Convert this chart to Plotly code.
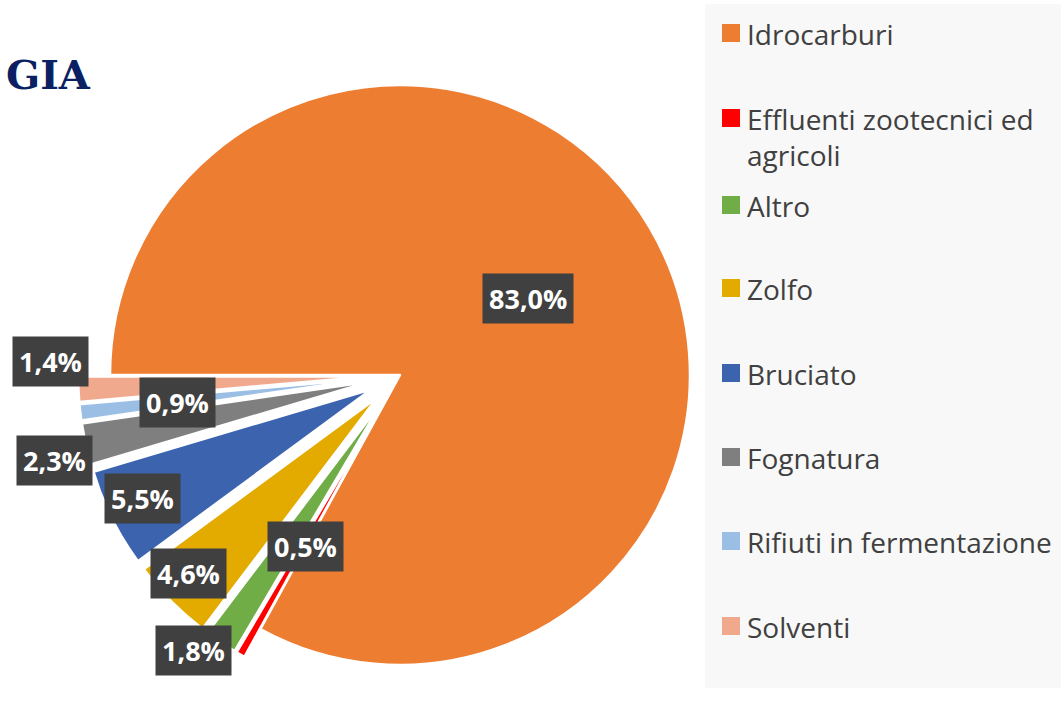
import plotly.graph_objects as go

# ---------------- data ----------------
labels = ["Idrocarburi", "Effluenti zootecnici ed agricoli", "Altro", "Zolfo",
          "Bruciato", "Fognatura", "Rifiuti in fermentazione", "Solventi"]
legend_text = ["Idrocarburi", "Effluenti zootecnici ed<br>agricoli", "Altro", "Zolfo",
               "Bruciato", "Fognatura", "Rifiuti in fermentazione", "Solventi"]
values = [83.0, 0.5, 1.8, 4.6, 5.5, 2.3, 0.9, 1.4]
colors = ["#ED7D31", "#FF0000", "#70AD47", "#E3AB00",
          "#3B63AE", "#7F7F7F", "#9BBFE4", "#F1A98D"]
pulls = [0, 0.11, 0.11, 0.11, 0.11, 0.11, 0.11, 0.11]

# label box centres (pixels in a 1061x704 canvas) - layout only
label_pos = [(528, 298), (305, 546), (193, 650), (188, 573),
             (142, 498), (54, 460), (177, 402), (50, 361)]

W, H = 1061, 704


def px(x):
    return x / W


def py(y):
    return 1 - y / H


pct_text = [f"{v:.1f}%".replace(".", ",") for v in values]

fig = go.Figure()

# pie geometry: centre (400,375), radius 290
cx, cy, r = 400, 375, 290
half = r * (1 + max(pulls))
fig.add_trace(go.Pie(
    labels=labels,
    values=values,
    sort=False,
    direction="clockwise",
    rotation=-90,
    pull=pulls,
    marker=dict(colors=colors, line=dict(color="white", width=2.5)),
    textinfo="none",
    hoverinfo="label+percent",
    showlegend=False,
    domain=dict(x=[px(cx - half), px(cx + half)], y=[py(cy + half), py(cy - half)]),
))

annotations = []
for (x, y), t in zip(label_pos, pct_text):
    annotations.append(dict(
        x=px(x), y=py(y), xref="paper", yref="paper",
        text=f"<b>{t}</b>", showarrow=False,
        font=dict(family="Open Sans", size=27, color="white"),
        bgcolor="#404040", borderpad=6,
        xanchor="center", yanchor="middle",
    ))

# manual legend
shapes = [dict(type="rect", xref="paper", yref="paper",
               x0=px(705), x1=px(1061), y0=py(688), y1=py(4),
               fillcolor="#F8F8F8", line=dict(width=0), layer="below")]
row_y = [33, 118, 205, 288, 373, 457, 541, 626]
for i, (t, c) in enumerate(zip(legend_text, colors)):
    yy = row_y[i]
    shapes.append(dict(type="rect", xref="paper", yref="paper",
                       x0=px(722), x1=px(740), y0=py(yy + 9), y1=py(yy - 9),
                       fillcolor=c, line=dict(width=0)))
    annotations.append(dict(
        x=px(745), y=py(yy - 20), xref="paper", yref="paper",
        text=t, showarrow=False, align="left",
        font=dict(family="Open Sans", size=28, color="#404040"),
        xanchor="left", yanchor="top",
    ))

# partial title text at top left
annotations.append(dict(
    x=px(4), y=py(74), xref="paper", yref="paper",
    text="<b>GIA</b>", showarrow=False,
    font=dict(family="DejaVu Serif", size=40, color="#0B1F63"),
    xanchor="left", yanchor="middle",
))

fig.update_layout(
    width=W, height=H,
    margin=dict(l=0, r=0, t=0, b=0),
    paper_bgcolor="white", plot_bgcolor="white",
    annotations=annotations, shapes=shapes,
    showlegend=False,
)

fig.write_html("out.html", config={"displayModeBar": False},
               post_script="document.body.style.margin='0';")
